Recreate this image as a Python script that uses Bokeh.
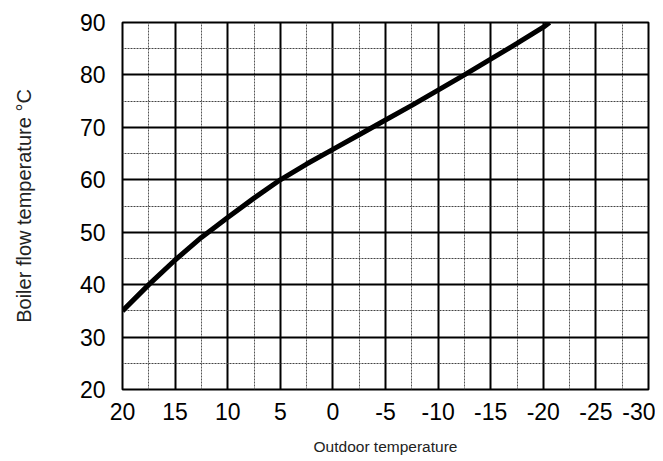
from bokeh.plotting import figure
from bokeh.models import Range1d, FixedTicker
from bokeh.embed import file_html
from bokeh.resources import INLINE

# Heating curve
outdoor = [20, 17.5, 15, 12.5, 10, 7.5, 5, 2.5, 0, -2.5, -5, -7.5, -10, -12.5, -15, -17.5, -20, -20.6]
flow = [35, 40, 44.7, 49, 52.8, 56.5, 60, 63, 65.8, 68.6, 71.4, 74.2, 77.1, 80.0, 83.0, 86.0, 89.1, 90]

x_ticks = [20, 15, 10, 5, 0, -5, -10, -15, -20, -25, -30]
x_minor = [17.5, 12.5, 7.5, 2.5, -2.5, -7.5, -12.5, -17.5, -22.5, -27.5]
y_ticks = [20, 30, 40, 50, 60, 70, 80, 90]
y_minor = [25, 35, 45, 55, 65, 75, 85]

FONT = "Liberation Sans"

p = figure(frame_width=526, frame_height=367, output_backend="svg", toolbar_location=None,
           x_range=Range1d(20, -30), y_range=Range1d(20, 90),
           min_border_left=122, min_border_right=7, min_border_top=22, min_border_bottom=20,
           x_axis_label="Outdoor temperature", y_axis_label="Boiler flow temperature °C")

p.background_fill_color = "white"
p.border_fill_color = "white"
p.outline_line_color = "black"
p.outline_line_width = 2

p.xaxis.ticker = FixedTicker(ticks=x_ticks, minor_ticks=x_minor)
p.yaxis.ticker = FixedTicker(ticks=y_ticks, minor_ticks=y_minor)
p.xaxis.major_label_overrides = {t: str(t) for t in x_ticks}

for ax in (p.xaxis, p.yaxis):
    ax.axis_line_color = None
    ax.major_tick_line_color = None
    ax.minor_tick_line_color = None
    ax.major_label_text_font = FONT
    ax.major_label_text_font_size = "23px"
    ax.major_label_text_color = "black"
    ax.axis_label_text_font = FONT
    ax.axis_label_text_font_style = "normal"
    ax.axis_label_text_color = "#222222"

p.xaxis.axis_label_text_font_size = "15.5px"
p.yaxis.axis_label_text_font_size = "20px"

p.xaxis.major_label_standoff = 7
p.xaxis.axis_label_standoff = 15
p.yaxis.major_label_standoff = 11
p.yaxis.axis_label_standoff = 42

p.xgrid.grid_line_color = "black"
p.xgrid.grid_line_width = 2
p.xgrid.minor_grid_line_color = "#555555"
p.xgrid.minor_grid_line_width = 1
p.xgrid.minor_grid_line_dash = "2 1"

p.ygrid.grid_line_color = "black"
p.ygrid.grid_line_width = 1.8
p.ygrid.minor_grid_line_color = "#444444"
p.ygrid.minor_grid_line_width = 1.2
p.ygrid.minor_grid_line_dash = "2 1"

p.line(outdoor, flow, line_color="black", line_width=5)

open("out.html", "w").write(file_html(p, INLINE))
